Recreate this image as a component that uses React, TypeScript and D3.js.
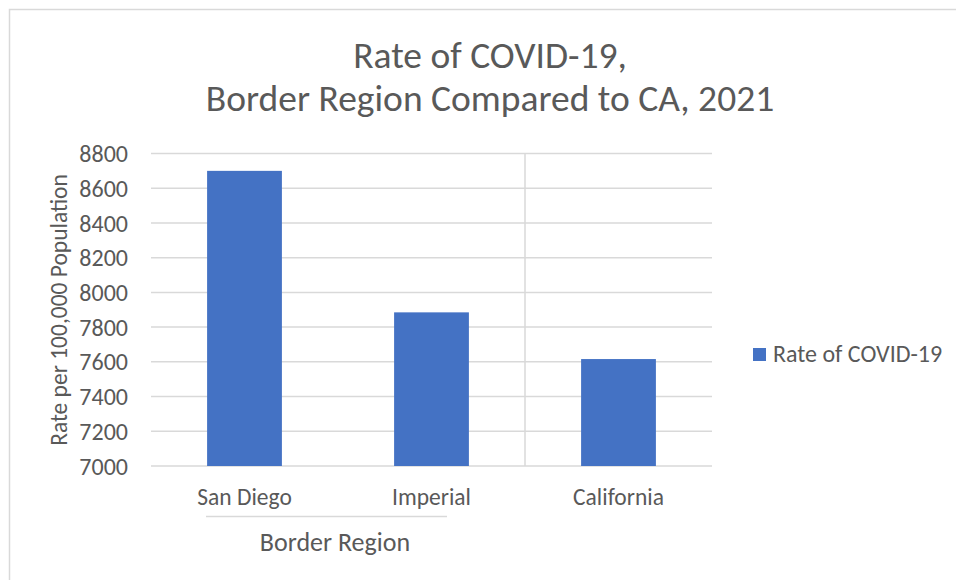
import React from "react";
import * as d3 from "d3";

const categories = ["San Diego", "Imperial", "California"];
const values = [8700, 7885, 7616];
const groupLabel = "Border Region";
const groupMembers = ["San Diego", "Imperial"];
const yTicks = [7000, 7200, 7400, 7600, 7800, 8000, 8200, 8400, 8600, 8800];
const seriesName = "Rate of COVID-19";
const titleLines = ["Rate of COVID-19,", "Border Region Compared to CA, 2021"];
const yTitle = "Rate per 100,000 Population";

const W = 956;
const H = 580;
const FONT = "Calibri, Carlito, Lato, sans-serif";
const TXT = "#595959";
const GRID = "#d9d9d9";
const BAR = "#4472C4";

export default function App() {
  const left = 151;
  const right = 712;
  const top = 153.5;
  const bottom = 466;

  const y = d3.scaleLinear().domain([7000, 8800]).range([bottom, top]);
  const x = d3
    .scaleBand<string>()
    .domain(categories)
    .range([left, right])
    .paddingInner(0.6)
    .paddingOuter(0.3);
  const step = x.step();
  const bandStart = (c: string) => left + categories.indexOf(c) * step;
  const sepX = bandStart(categories[2]);
  const groupStart = bandStart(groupMembers[0]);
  const groupEnd = bandStart(groupMembers[groupMembers.length - 1]) + step;
  const groupCenter = (groupStart + groupEnd) / 2;

  return (
    <svg
      width={W}
      height={H}
      style={{ position: "absolute", left: 0, top: 0, background: "#fff" }}
      fontFamily={FONT}
    >
      <rect x={9.5} y={9.5} width={W + 20} height={H + 20} fill="#fff" stroke={GRID} strokeWidth={1.5} />
      {titleLines.map((t, i) => (
        <text key={t} x={490} y={68 + i * 43} textAnchor="middle" fontSize={37.5} fill={TXT}>
          {t}
        </text>
      ))}
      {yTicks.map((t) => (
        <g key={t}>
          <line x1={left} x2={right} y1={y(t)} y2={y(t)} stroke={GRID} strokeWidth={1.5} />
          <text x={128} y={y(t)} dy="0.36em" textAnchor="end" fontSize={24} fill={TXT}>
            {t}
          </text>
        </g>
      ))}
      <line x1={sepX} x2={sepX} y1={top} y2={bottom} stroke={GRID} strokeWidth={1.5} />
      {categories.map((c, i) => (
        <rect key={c} x={x(c)} y={y(values[i])} width={x.bandwidth()} height={bottom - y(values[i])} fill={BAR} />
      ))}
      {categories.map((c) => (
        <text key={c} x={(x(c) as number) + x.bandwidth() / 2} y={505} textAnchor="middle" fontSize={23.5} fill={TXT}>
          {c}
        </text>
      ))}
      <line x1={groupStart + 55} x2={groupEnd - 78} y1={516.5} y2={516.5} stroke={GRID} strokeWidth={1.5} />
      <text x={groupCenter - 3} y={551} textAnchor="middle" fontSize={26} fill={TXT}>
        {groupLabel}
      </text>
      <text
        transform={`translate(67,310) rotate(-90)`}
        textAnchor="middle"
        fontSize={23.5}
        fill={TXT}
      >
        {yTitle}
      </text>
      <rect x={753} y={348} width={13} height={13} fill={BAR} />
      <text x={773} y={362} fontSize={24} fill={TXT}>
        {seriesName}
      </text>
    </svg>
  );
}
